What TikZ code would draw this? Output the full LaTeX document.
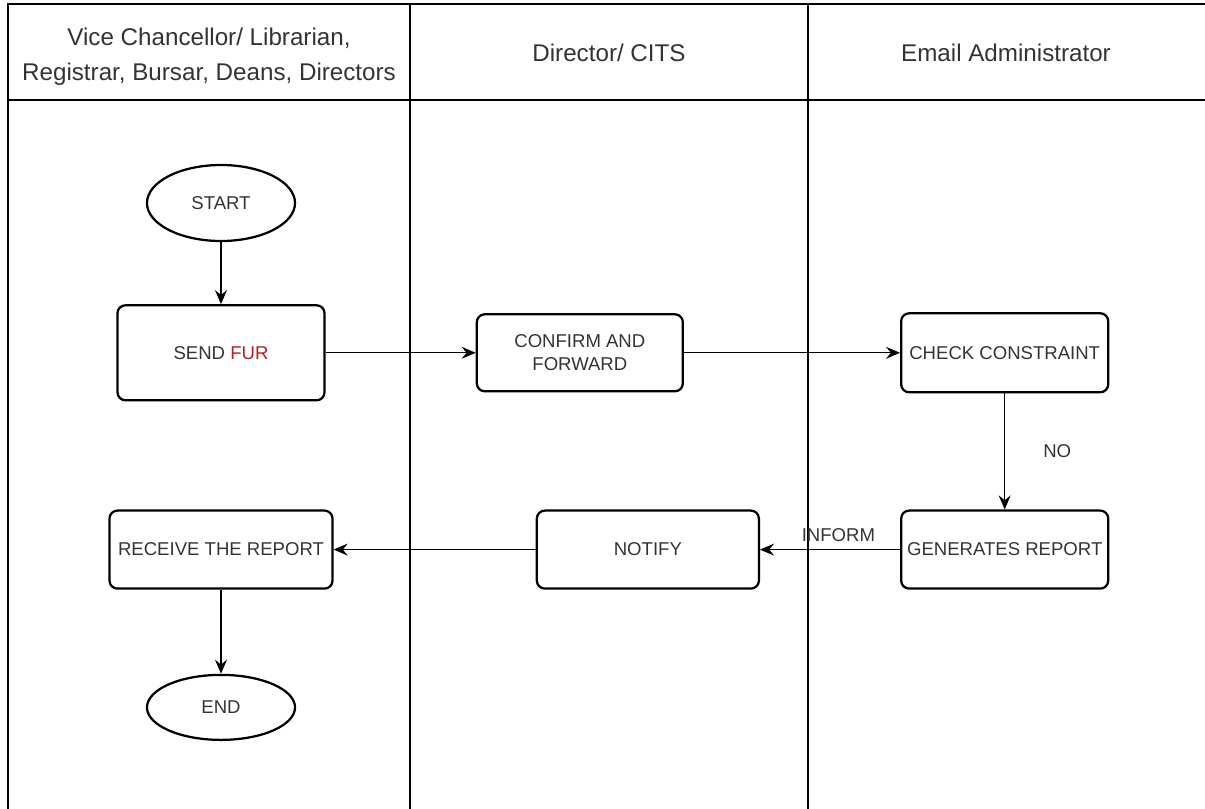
\documentclass[tikz,border=0pt]{standalone}
\usepackage{fontspec}
\setmainfont{Liberation Sans}
\usepackage{xcolor}
\usepackage{tikz}
\usetikzlibrary{arrows.meta,positioning,shapes.geometric}
\definecolor{InkGray}{RGB}{51,51,51}
\definecolor{FurRed}{RGB}{180,30,30}

\begin{document}
\begin{tikzpicture}[x=0.025cm, y=-0.025cm, >={Stealth[length=10pt,width=8.5pt,inset=3.5pt]},
    font=\fontsize{13.2}{16}\selectfont, text=InkGray,
    process/.style={draw, line width=1.6pt, rounded corners=0.2cm, inner sep=1pt},
    terminal/.style={draw, ellipse, line width=1.6pt, minimum width=3.7cm, inner sep=1pt},
    lanehead/.style={font=\fontsize{17.2}{25}\selectfont, align=center},
    lane/.style={line width=0.9pt},
    flow/.style={->, line width=1pt}]
    \useasboundingbox (0,0) rectangle (1205,809);

    % swimlanes
    \draw [lane] (8,809) -- (8,4) -- (1205,4);
    \draw [lane] (8,100) -- (1205,100);
    \draw [lane] (410,4) -- (410,809);
    \draw [lane] (808,4) -- (808,809);
    \node [lanehead] (lane1) at (209,57) {Vice Chancellor/ Librarian,\\Registrar, Bursar, Deans, Directors};
    \node [lanehead] (lane2) at (609,53) {Director/ CITS};
    \node [lanehead] (lane3) at (1006,53) {Email Administrator};

    % steps
    \node [terminal, minimum height=1.9cm] (start) at (221,203) {START};
    \node [process, minimum width=5.175cm, minimum height=2.375cm, below=1.55cm of start] (send) {SEND \textcolor{FurRed}{FUR}};
    \node [process, minimum width=5.15cm, minimum height=1.925cm, align=center, right=3.75cm of send] (confirm) {CONFIRM AND\\FORWARD};
    \node [process, minimum width=5.175cm, minimum height=1.975cm, right=5.4cm of confirm] (check) {CHECK CONSTRAINT};
    \node [process, minimum width=5.175cm, minimum height=1.95cm, below=2.9cm of check] (generates) {GENERATES REPORT};
    \node [process, minimum width=5.55cm, minimum height=1.95cm, left=3.5cm of generates] (notify) {NOTIFY};
    \node [process, minimum width=5.575cm, minimum height=1.95cm, left=5.05cm of notify] (receive) {RECEIVE THE REPORT};
    \node [terminal, minimum height=1.625cm, below=2.1cm of receive] (end) {END};

    \draw [flow] (start) -- (send);
    \draw [flow] (send) -- (confirm);
    \draw [flow] (confirm) -- (check);
    \draw [flow] (check) -- node[right=0.83cm]{NO} (generates);
    \draw [flow] (generates) -- node[pos=0.44, above=2pt]{INFORM} (notify);
    \draw [flow] (notify) -- (receive);
    \draw [flow] (receive) -- (end);
\end{tikzpicture}
\end{document}
